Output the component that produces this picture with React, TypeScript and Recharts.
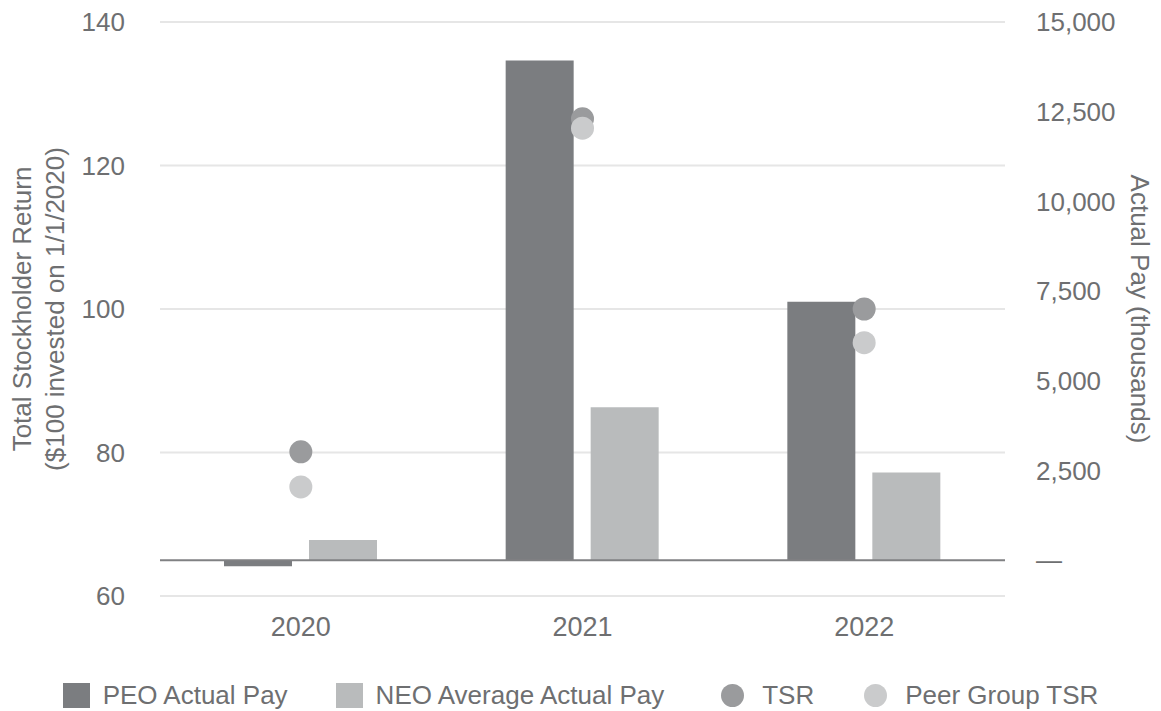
import React from "react";
import {
  ComposedChart,
  Bar,
  Scatter,
  XAxis,
  YAxis,
  CartesianGrid,
  Legend,
  ReferenceLine,
} from "recharts";

const years = ["2020", "2021", "2022"];
const peoActualPay = [-170, 13930, 7200];
const neoAverageActualPay = [560, 4260, 2440];
const tsr = [80.1, 126.5, 100.0];
const peerGroupTsr = [75.2, 125.2, 95.3];

const leftTicks = [60, 80, 100, 120, 140];
const rightTicks = [0, 2500, 5000, 7500, 10000, 12500, 15000];

const data = years.map((y, i) => ({
  year: y,
  peo: peoActualPay[i],
  neo: neoAverageActualPay[i],
  tsr: tsr[i],
  peer: peerGroupTsr[i],
}));

const FONT = "'Liberation Sans', Arial, Helvetica, sans-serif";
const TEXT = "#6e6f71";
const C_PEO = "#7b7d80";
const C_NEO = "#b9bbbc";
const C_TSR = "#9a9b9d";
const C_PEER = "#cacbcc";

const legendItems = [
  { label: "PEO Actual Pay", color: C_PEO, shape: "square", gap: 48 },
  { label: "NEO Average Actual Pay", color: C_NEO, shape: "square", gap: 57 },
  { label: "TSR", color: C_TSR, shape: "circle", gap: 50 },
  { label: "Peer Group TSR", color: C_PEER, shape: "circle", gap: 0 },
];

const LegendContent = () => (
  <div
    style={{
      display: "flex",
      justifyContent: "center",
      alignItems: "center",
      height: 32,
      fontFamily: FONT,
      fontSize: 26,
      color: TEXT,
      width: 1161,
    }}
  >
    {legendItems.map((it) => (
      <div
        key={it.label}
        style={{ display: "flex", alignItems: "center", marginRight: it.gap }}
      >
        {it.shape === "square" ? (
          <span
            style={{
              display: "inline-block",
              width: 27,
              height: 25,
              background: it.color,
              marginRight: 13,
            }}
          />
        ) : (
          <span
            style={{
              display: "inline-block",
              width: 23,
              height: 23,
              borderRadius: "50%",
              background: it.color,
              marginRight: 18,
            }}
          />
        )}
        <span style={{ whiteSpace: "nowrap" }}>{it.label}</span>
      </div>
    ))}
  </div>
);

const LeftLabel = (props: any) => {
  const vb = props.viewBox || {};
  const cy = (vb.y || 0) + (vb.height || 0) / 2;
  return (
    <g>
      <text
        x={22}
        y={cy}
        transform={`rotate(-90, 22, ${cy})`}
        textAnchor="middle"
        dominantBaseline="central"
        fill={TEXT}
        fontFamily={FONT}
        fontSize={26}
      >
        Total Stockholder Return
      </text>
      <text
        x={55}
        y={cy}
        transform={`rotate(-90, 55, ${cy})`}
        textAnchor="middle"
        dominantBaseline="central"
        fill={TEXT}
        fontFamily={FONT}
        fontSize={26}
      >
        ($100 invested on 1/1/2020)
      </text>
    </g>
  );
};

const RightLabel = (props: any) => {
  const vb = props.viewBox || {};
  const cy = (vb.y || 0) + (vb.height || 0) / 2;
  const x = 1140;
  return (
    <text
      x={x}
      y={cy}
      transform={`rotate(90, ${x}, ${cy})`}
      textAnchor="middle"
      dominantBaseline="central"
      fill={TEXT}
      fontFamily={FONT}
      fontSize={26}
    >
      Actual Pay (thousands)
    </text>
  );
};

const dot = (color: string) => (p: any) =>
  <circle cx={p.cx} cy={p.cy} r={11.5} fill={color} />;

const tickStyle = { fill: TEXT, fontFamily: FONT, fontSize: 26 };

export default function App() {
  return (
    <div style={{ position: "absolute", left: 0, top: 0, background: "#fff" }}>
      <ComposedChart
        width={1161}
        height={711}
        data={data}
        margin={{ top: 22, right: 0, bottom: 0, left: 0 }}
        barGap={17}
      >
        <CartesianGrid
          yAxisId="left"
          vertical={false}
          stroke="#e6e6e6"
          strokeWidth={2}
        />
        <XAxis
          dataKey="year"
          axisLine={false}
          tickLine={false}
          tickSize={0}
          tickMargin={21}
          height={83}
          tick={{ ...tickStyle, fontSize: 27 }}
        />
        <YAxis
          yAxisId="left"
          orientation="left"
          width={160}
          domain={[60, 140]}
          ticks={leftTicks}
          axisLine={false}
          tickLine={false}
          tickSize={0}
          tickMargin={35}
          tick={tickStyle}
          label={{ content: LeftLabel }}
        />
        <YAxis
          yAxisId="right"
          orientation="right"
          width={156}
          domain={[-1000, 15000]}
          ticks={rightTicks}
          axisLine={false}
          tickLine={false}
          tickSize={0}
          tickMargin={31}
          tick={tickStyle}
          tickFormatter={(v: number) => (v === 0 ? "—" : v.toLocaleString("en-US"))}
          label={{ content: RightLabel }}
        />
        <ReferenceLine yAxisId="right" y={0} stroke="#808183" strokeWidth={2} />
        <Bar
          yAxisId="right"
          dataKey="peo"
          name="PEO Actual Pay"
          fill={C_PEO}
          barSize={68}
          isAnimationActive={false}
        />
        <Bar
          yAxisId="right"
          dataKey="neo"
          name="NEO Average Actual Pay"
          fill={C_NEO}
          barSize={68}
          isAnimationActive={false}
        />
        <Scatter
          yAxisId="left"
          dataKey="tsr"
          name="TSR"
          fill={C_TSR}
          shape={dot(C_TSR)}
          isAnimationActive={false}
        />
        <Scatter
          yAxisId="left"
          dataKey="peer"
          name="Peer Group TSR"
          fill={C_PEER}
          shape={dot(C_PEER)}
          isAnimationActive={false}
        />
        <Legend
          verticalAlign="bottom"
          align="left"
          content={LegendContent}
          wrapperStyle={{ left: 0, width: 1161, height: 32 }}
        />
      </ComposedChart>
    </div>
  );
}
